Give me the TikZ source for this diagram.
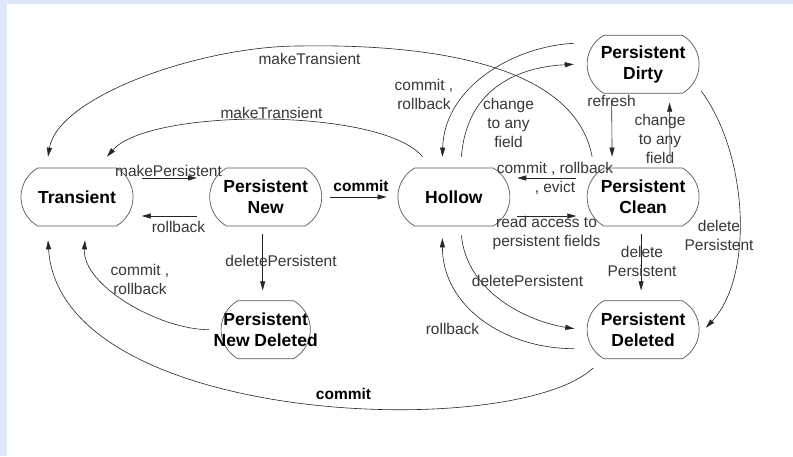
\documentclass[tikz,border=0pt]{standalone}
\usepackage{fontspec}
\setmainfont{Liberation Sans}
\usetikzlibrary{positioning,shapes.misc,arrows.meta}

\definecolor{pageblue}{RGB}{220,232,250}
\definecolor{labelgray}{RGB}{55,55,55}

\tikzset{
  pstate/.style={rounded rectangle, rounded rectangle arc length=120, draw=black!65, line width=0.7pt,
    minimum width=88pt, minimum height=58pt, inner xsep=-12pt, inner ysep=0pt, align=center,
    font=\fontsize{17.5}{21}\selectfont\bfseries},
  trans/.style={->, line width=0.6pt, draw=black!85},
  lbl/.style={inner sep=0pt, align=center, text=labelgray, font=\fontsize{15.5}{19}\selectfont},
}

\begin{document}
\begin{tikzpicture}[x=1pt, y=1pt, node distance=75pt, >={Triangle[length=9pt,width=5pt]}]
        \fill[pageblue] (0,0) rectangle (793,456);
        \fill[white] (7,0) rectangle (793,452);
        \useasboundingbox (0,0) rectangle (793,456);

        % states
        \node[pstate] (transient) at (77,259) {Transient};
        \node[pstate, right=76pt of transient] (pnew) {Persistent\\New};
        \node[pstate, right=75.5pt of pnew] (hollow) {Hollow};
        \node[pstate, right=76.5pt of hollow] (pclean) {Persistent\\Clean};
        \node[pstate, above=74pt of pclean] (pdirty) {Persistent\\Dirty};
        \node[pstate, below=74pt of pnew] (pnewdel) {Persistent\\New Deleted};
        \node[pstate, below=74pt of pclean] (pdel) {Persistent\\Deleted};
        \coordinate (mtpeak) at (300,410);

        % straight transitions
        \draw[trans] ([shift={(8.5,19)}]transient.east) -- ([shift={(-12.5,19)}]pnew.west);
        \draw[trans] ([shift={(-12.5,-19)}]pnew.west) -- ([shift={(8.5,-19)}]transient.east);
        \draw[trans] ([shift={(7.5,0)}]pnew.east) -- ([shift={(-11,0)}]hollow.west);
        \draw[trans] ([shift={(-3,-8)}]pnew.south) -- ([shift={(-3,10)}]pnewdel.north);
        \draw[trans] ([shift={(-10.5,19)}]pclean.west) -- ([shift={(7,19)}]hollow.east);
        \draw[trans] ([shift={(7,-19)}]hollow.east) -- ([shift={(-10.5,-19)}]pclean.west);
        \draw[trans] ([shift={(-31.5,-6)}]pdirty.south) -- ([shift={(-31,11)}]pclean.north);
        \draw[trans] ([shift={(27,5)}]pclean.north) -- ([shift={(26.5,-9)}]pdirty.south);
        \draw[trans] ([shift={(-2,-8)}]pclean.south) -- ([shift={(-2,10)}]pdel.north);

        % curved transitions
        \draw[trans] ([shift={(-11.5,0)}]pnewdel.west) .. controls +(-50,0) and +(-3,-45) .. ([shift={(8,-14)}]transient.south);
        \draw[trans] ([shift={(-50,-9)}]pdel.south) .. controls +(-79,-74) and +(12,-186) .. ([shift={(-29,-14)}]transient.south);
        \draw[trans] ([shift={(-12.5,-19)}]pdel.west) .. controls +(-70,0) and +(0,-68) .. ([shift={(-11.5,-12)}]hollow.south);
        \draw[trans] ([shift={(7.5,-9)}]hollow.south) .. controls +(5,-55) and +(-50,8) .. ([shift={(-12.5,1)}]pdel.west);
        \draw[trans] ([shift={(7.5,11)}]hollow.north) .. controls +(5,65) and +(-60,-3) .. ([shift={(-13,0)}]pdirty.west);
        \draw[trans] ([shift={(-13,21)}]pdirty.west) .. controls +(-60,-3) and +(2,70) .. ([shift={(-11.5,11)}]hollow.north);
        \draw[trans] ([shift={(-51,11)}]pclean.north) .. controls +(-18,96) and +(120,2) .. (mtpeak)
                     .. controls +(-100,0) and +(10,60) .. ([shift={(-29,11)}]transient.north);
        \draw[trans] ([shift={(-31.5,11)}]hollow.north) .. controls +(-40,49) and +(43,49) .. ([shift={(30,11)}]transient.north);
        \draw[trans] ([shift={(2,-27)}]pdirty.east) .. controls +(47,-64) and +(48,51) .. ([shift={(6.5,2)}]pdel.east);

        % labels
        \node[lbl] (lmtouter) at (309.5,397.5) {makeTransient};
        \node[lbl] (lmtinner) at (271.5,343.5) {makeTransient};
        \node[lbl] (lmakep) at (168.5,285) {makePersistent};
        \node[lbl] (lrbnew) at (178.5,229.5) {rollback};
        \node[lbl, font=\fontsize{15.5}{19}\selectfont\bfseries, text=black] (lcommitnew) at (361,270.5) {commit};
        \node[lbl] (ldelnew) at (281,195) {deletePersistent};
        \node[lbl] (lcrnewdel) at (140,176.5) {commit ,\\rollback};
        \node[lbl, font=\fontsize{15.5}{19}\selectfont\bfseries, text=black] (lcommitdel) at (343.5,62) {commit};
        \node[lbl] (lrbdel) at (452.5,127) {rollback};
        \node[lbl] (ldelhollow) at (527.5,175) {deletePersistent};
        \node[lbl] (lcre) at (555,278) {commit , rollback\\, evict};
        \node[lbl] (lread) at (546.5,223.5) {read access to\\persistent fields};
        \node[lbl] (lchhollow) at (508.5,333.5) {change\\to any\\field};
        \node[lbl] (lrefresh) at (611.5,355) {refresh};
        \node[lbl] (lchclean) at (660,317) {change\\to any\\field};
        \node[lbl] (ldelclean) at (642,195) {delete\\Persistent};
        \node[lbl] (ldeldirty) at (719,221) {delete\\Persistent};
        \node[lbl] (lcrdirty) at (424,362) {commit ,\\rollback};
\end{tikzpicture}
\end{document}
